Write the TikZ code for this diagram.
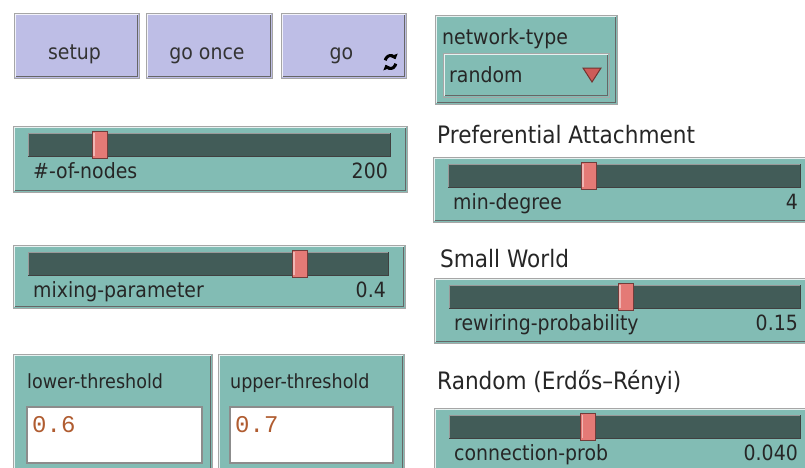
\documentclass[tikz,border=0pt]{standalone}
\usepackage{fontspec}
\setmainfont{DejaVu Sans}[FakeStretch=0.9]
\newfontfamily\valuefont{Liberation Mono}
\usetikzlibrary{arrows.meta}

\definecolor{widget}{RGB}{130,188,180}
\definecolor{track}{RGB}{66,92,88}
\definecolor{thumb}{RGB}{228,122,118}
\definecolor{button}{RGB}{190,190,230}
\definecolor{inputtext}{RGB}{176,92,48}
\definecolor{chooserred}{RGB}{205,92,88}

\tikzset{
  lbl/.style={inner sep=0pt, anchor=base west, text=black!85, font=\fontsize{21}{25}\selectfont},
  headlbl/.style={lbl, font=\fontsize{24}{28}\selectfont},
  btnlbl/.style={lbl, anchor=base, text=black!80},
  inlbl/.style={lbl, font=\fontsize{19.5}{23}\selectfont},
  numlbl/.style={inner sep=0pt, anchor=base west, text=inputtext, font=\valuefont\fontsize{24}{28}\selectfont},
  foreverarc/.style={line width=3pt, -{Triangle[length=4.5pt,width=8pt]}}
}

% raised widget frame: x1, y1, x2, y2, fill
\newcommand{\bevelbox}[5]{%
  \filldraw[fill=#5, draw=black!35, line width=1pt] (#1,#2) rectangle (#3,#4);
  \draw[white!80!#5, line width=1.5pt] ({#1+1.5},{#4-1.5}) |- ({#3-1.5},{#2+1.5});
  \draw[black!60, line width=1.5pt] ({#1+1.5},{#4-1.5}) -| ({#3-1.5},{#2+1.5});
}

% slider: name, x1, y1, x2, y2, thumb x, label, value
\newcommand{\nlslider}[8]{%
  \bevelbox{#2}{#3}{#4}{#5}{widget}
  \filldraw[fill=track, draw=black!75, line width=1pt] ({#2+15},{#3+7}) rectangle ({#4-17},{#3+30});
  \draw[black!40, line width=1pt] ({#2+15.5},{#3+29.5}) |- ({#4-17.5},{#3+7.5});
  \filldraw[fill=thumb, draw=black!50!thumb, line width=1pt] ({#6-7.5},{#3+5}) rectangle ({#6+7.5},{#3+32});
  \draw[white!45!thumb, line width=1.5pt] ({#6-5.5},{#3+30}) -- ({#6-5.5},{#3+7});
  \node[lbl] (#1-label) at ({#2+20},{#3+52}) {#7};
  \node[lbl, anchor=base east] (#1-value) at ({#4-19},{#3+52}) {#8};
}

\begin{document}
\begin{tikzpicture}[x=1pt, y=-1pt]
  \useasboundingbox (0,0) rectangle (805,467);
  \clip (0,0) rectangle (805,467);
  \fill[white] (0,0) rectangle (805,467);

  % buttons
  \foreach \xa/\xb/\name/\txt in {14/139/setup/setup, 146/272/goonce/go once, 281/406/go/go}{
    \bevelbox{\xa}{13}{\xb}{78}{button}
    \node[btnlbl] (\name) at ({(\xa+\xb)/2-2},59) {\txt};
  }
  % forever icon on go
  \draw[foreverarc] (390.5,62) ++(195:5.5 and 6.5) arc[start angle=195, end angle=335, x radius=5.5, y radius=6.5];
  \draw[foreverarc] (390.5,62) ++(15:5.5 and 6.5) arc[start angle=15, end angle=155, x radius=5.5, y radius=6.5];

  % chooser
  \bevelbox{435}{15}{617}{104}{widget}
  \node[lbl] (nettype) at (442,44) {network-type};
  \bevelbox{443}{53}{609}{97}{widget}
  \node[lbl] (nettype-value) at (449,82) {random};
  \filldraw[fill=chooserred, draw=black!45!chooserred, line width=1pt] (583,68) -- (601,68) -- (592,82) -- cycle;

  % sliders, left column
  \nlslider{nodes}{13}{126}{407}{192}{99.5}{\#-of-nodes}{200}
  \nlslider{mixing}{13}{245}{405}{308}{299.5}{mixing-parameter}{0.4}

  % sliders, right column
  \node[headlbl] (prefatt) at (437,143) {Preferential Attachment};
  \nlslider{mindeg}{433}{157}{817}{222}{588.5}{min-degree}{4}
  \node[headlbl] (smallworld) at (440,267) {Small World};
  \nlslider{rewire}{434}{278}{817}{343}{625.5}{rewiring-probability}{0.15}
  \node[headlbl] (erdosrenyi) at (437,389) {Random (Erdős–Rényi)};
  \nlslider{connprob}{434}{408}{817}{473}{588}{connection-prob}{0.040}

  % input boxes
  \bevelbox{13}{354}{212}{480}{widget}
  \node[inlbl] (lower) at (27,388) {lower-threshold};
  \filldraw[fill=white, draw=black!45, line width=1.5pt] (27,407) rectangle (202,463);
  \node[numlbl] (lower-value) at (32,432) {0.6};
  \bevelbox{218}{354}{404}{480}{widget}
  \node[inlbl] (upper) at (230,388) {upper-threshold};
  \filldraw[fill=white, draw=black!45, line width=1.5pt] (230,407) rectangle (393,463);
  \node[numlbl] (upper-value) at (235,432) {0.7};
\end{tikzpicture}
\end{document}
